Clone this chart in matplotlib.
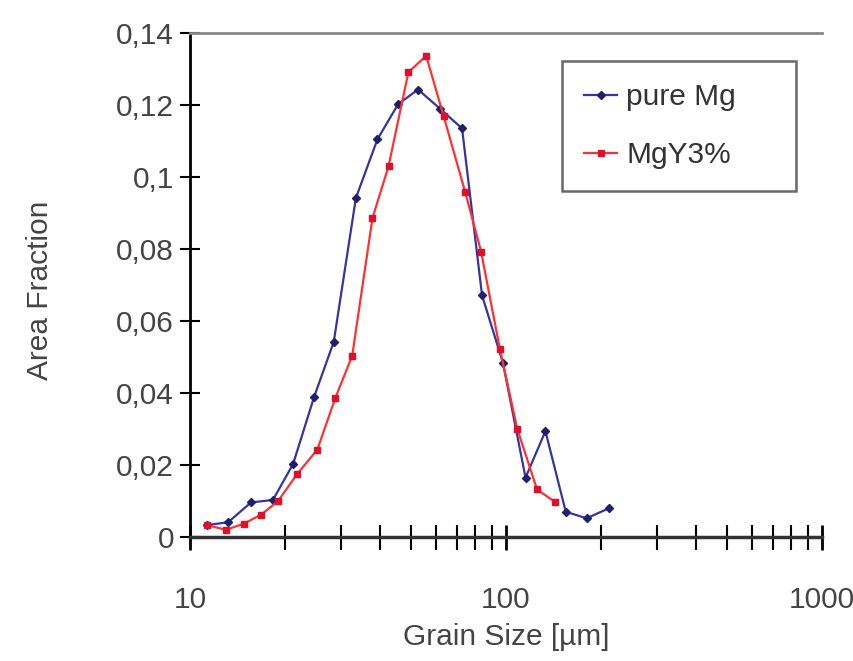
import numpy as np
import matplotlib.pyplot as plt

# Distribuição do tamanho de grão - Mg puro vs MgY3%

plt.rcParams['font.family'] = ['Liberation Sans', 'DejaVu Sans']

tamanho_mg = [11.3, 13.2, 15.6, 18.3, 21.2, 24.7, 28.5, 33.5, 39.2, 45.6,
              52.7, 62, 72.6, 84, 97.8, 115.3, 133.3, 154.6, 180, 212]
fracao_mg = [0.0033, 0.0041, 0.0096, 0.0103, 0.0203, 0.0389, 0.0542, 0.0942, 0.1105, 0.1203,
             0.1243, 0.1189, 0.1135, 0.0671, 0.0484, 0.0165, 0.0294, 0.0070, 0.0052, 0.0080]

tamanho_mgy = [11.3, 13.0, 14.8, 16.8, 19.0, 21.8, 25.3, 28.8, 32.6, 37.8,
               42.5, 49.1, 55.9, 63.5, 74.3, 83.4, 95.7, 108.6, 125.4, 142.6]
fracao_mgy = [0.0033, 0.0020, 0.0037, 0.0062, 0.0100, 0.0174, 0.0243, 0.0385, 0.0503, 0.0886,
              0.1030, 0.1291, 0.1337, 0.1169, 0.0958, 0.0793, 0.0521, 0.0300, 0.0132, 0.0098]

yticks = [0, 0.02, 0.04, 0.06, 0.08, 0.1, 0.12, 0.14]
yticklabels = ['0', '0,02', '0,04', '0,06', '0,08', '0,1', '0,12', '0,14']
xticks = [10, 100, 1000]
xticklabels = ['10', '100', '1000']

fs = 21.5
cor_texto = '#444444'

fig = plt.figure(figsize=(8.54, 6.61), dpi=100)
ax = fig.add_axes([0.2225, 0.1876, 0.74, 0.7624])

ax.plot(tamanho_mg, fracao_mg, color='#3535a0', lw=1.6, marker='D', ms=4,
        mfc='#1f1f6e', mec='#1f1f6e', label='pure Mg')
ax.plot(tamanho_mgy, fracao_mgy, color='#ff3030', lw=1.6, marker='s', ms=4,
        mfc='#e0102a', mec='#e0102a', label='MgY3%')

ax.set_xscale('log')
ax.set_xlim(10, 1000)
ax.set_ylim(0, 0.14)
ax.set_xticks(xticks)
ax.set_xticklabels(xticklabels)
ax.set_yticks(yticks)
ax.set_yticklabels(yticklabels)

ax.spines['right'].set_visible(False)
ax.spines['top'].set_color('#888888')
ax.spines['top'].set_linewidth(2)
ax.spines['left'].set_linewidth(2)
ax.spines['bottom'].set_linewidth(2.5)
ax.spines['bottom'].set_color('#333333')

ax.tick_params(axis='both', which='both', direction='inout', colors='black',
               labelcolor=cor_texto, labelsize=fs)
ax.tick_params(axis='y', length=15, width=1.5, pad=4)
ax.tick_params(axis='x', which='major', length=18, width=2, pad=26)
ax.tick_params(axis='x', which='minor', length=18, width=1.5)
ax.xaxis.set_minor_formatter(plt.NullFormatter())

ax.set_xlabel('Grain Size [µm]', fontsize=fs, color=cor_texto)
ax.set_ylabel('Area Fraction', fontsize=fs, color=cor_texto)
ax.xaxis.set_label_coords(0.5, -0.17)
ax.yaxis.set_label_coords(-0.215, 0.49)

# legenda com caixa mais larga, como no original
leg = ax.legend(loc='upper left', bbox_to_anchor=(0.5886, 0.5, 0.370, 0.445),
                mode='expand', fontsize=fs, frameon=True, fancybox=False,
                handlelength=1.1, borderpad=0.75, labelspacing=1.0,
                handletextpad=0.3, borderaxespad=0, labelcolor='#333333')
leg.get_frame().set_edgecolor('#444444')
leg.get_frame().set_linewidth(1.8)

plt.savefig('out.png')
